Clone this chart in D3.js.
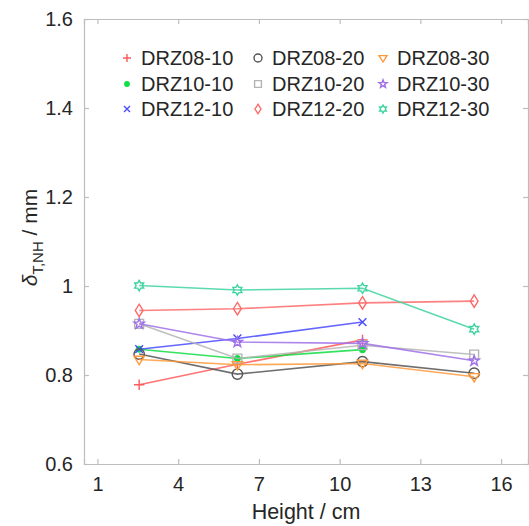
<!DOCTYPE html>
<html>
<head>
<meta charset="utf-8">
<script src="https://cdn.jsdelivr.net/npm/d3@7"></script>
<style>
  html, body { margin: 0; padding: 0; background: #fff; }
  svg { display: block; font-family: "Liberation Sans", Arial, sans-serif; }
</style>
</head>
<body>
<svg id="chart" width="529" height="526"></svg>
<script>
// Sampling heights (cm)
const heights = [2.55, 6.2, 10.85, 15];

// Series names
const seriesNames = ["DRZ08-10", "DRZ08-20", "DRZ08-30",
                     "DRZ10-10", "DRZ10-20", "DRZ10-30",
                     "DRZ12-10", "DRZ12-20", "DRZ12-30"];

// δ_T,NH values (mm) per series
const drz08_10 = [0.778, 0.824, 0.879];
const drz08_20 = [0.847, 0.802, 0.830, 0.804];
const drz08_30 = [0.835, 0.823, 0.826, 0.796];
const drz10_10 = [0.858, 0.837, 0.857];
const drz10_20 = [0.915, 0.837, 0.867, 0.846];
const drz10_30 = [0.915, 0.874, 0.871, 0.832];
const drz12_10 = [0.858, 0.882, 0.919];
const drz12_20 = [0.945, 0.949, 0.962, 0.966];
const drz12_30 = [1.001, 0.991, 0.995, 0.903];

// Tick values
const xTicks = [1, 4, 7, 10, 13, 16];
const yTicks = [0.6, 0.8, 1.0, 1.2, 1.4, 1.6];

const seriesValues = [drz08_10, drz08_20, drz08_30,
                      drz10_10, drz10_20, drz10_30,
                      drz12_10, drz12_20, drz12_30];
const seriesColors = ["#ff5a5a", "#555555", "#ff9a3c",
                      "#11dd44", "#b4b4b4", "#a070e8",
                      "#4a4aff", "#ff6a6a", "#3fd3a0"];
const seriesMarkers = ["plus", "circle", "triangleDown",
                       "dot", "square", "pentagram",
                       "cross", "diamond", "hexagram"];

const svg = d3.select("#chart");
const margin = { left: 84, right: 1, top: 19, bottom: 62 };
const W = 529, H = 526;
const x = d3.scaleLinear().domain([0.5, 17]).range([margin.left, W - margin.right]);
const y = d3.scaleLinear().domain([0.6, 1.6]).range([H - margin.bottom, margin.top]);

const axisColor = "#bdbdbd";
const textColor = "#262626";

// Axes (ticks point inward, mirrored on top/right)
function styleAxis(g) {
  g.select(".domain").attr("stroke", axisColor).attr("stroke-width", 1.2);
  g.selectAll(".tick line").attr("stroke", axisColor).attr("stroke-width", 1.2);
  g.selectAll(".tick text").attr("fill", textColor).style("font-size", "20px");
}
svg.append("g")
  .attr("transform", `translate(0,${y(0.6)})`)
  .call(d3.axisBottom(x).tickValues(xTicks).tickSize(-5).tickPadding(13).tickFormat(d3.format("d")))
  .call(styleAxis);
svg.append("g")
  .attr("transform", `translate(0,${y(1.6)})`)
  .call(d3.axisTop(x).tickValues(xTicks).tickSize(-5).tickFormat(""))
  .call(styleAxis);
svg.append("g")
  .attr("transform", `translate(${x(0.5)},0)`)
  .call(d3.axisLeft(y).tickValues(yTicks).tickSize(-5).tickPadding(11).tickFormat(d => d3.format("~g")(d)))
  .call(styleAxis);
svg.append("g")
  .attr("transform", `translate(${x(17)},0)`)
  .call(d3.axisRight(y).tickValues(yTicks).tickSize(-5).tickFormat(""))
  .call(styleAxis);

// Axis titles
svg.append("text")
  .attr("x", (x(0.5) + x(17)) / 2).attr("y", 519)
  .attr("text-anchor", "middle").attr("fill", textColor)
  .style("font-size", "21.5px").text("Height / cm");

const yTitle = svg.append("text")
  .attr("transform", `translate(37,${(y(0.6) + y(1.6)) / 2 - 4}) rotate(-90)`)
  .attr("text-anchor", "middle").attr("fill", textColor)
  .style("font-size", "21px");
yTitle.append("tspan").text("δ").style("font-style", "italic");
yTitle.append("tspan").attr("dy", 6).style("font-size", "15px").text("T,NH");
yTitle.append("tspan").attr("dy", -6).text(" / mm");

// Marker path generator
function markerPath(type, r) {
  switch (type) {
    case "plus": return `M${-r},0H${r}M0,${-r}V${r}`;
    case "cross": { const a = r * 0.75; return `M${-a},${-a}L${a},${a}M${-a},${a}L${a},${-a}`; }
    case "circle": return d3.arc()({ innerRadius: 0, outerRadius: r, startAngle: 0, endAngle: 2 * Math.PI });
    case "dot": { const q = r * 0.55; return d3.arc()({ innerRadius: 0, outerRadius: q, startAngle: 0, endAngle: 2 * Math.PI }); }
    case "square": { const a = r * 0.85; return `M${-a},${-a}H${a}V${a}H${-a}Z`; }
    case "diamond": return `M0,${-r * 1.2}L${r * 0.75},0L0,${r * 1.2}L${-r * 0.75},0Z`;
    case "triangleDown": return `M${-r},${-r * 0.6}L${r},${-r * 0.6}L0,${r}Z`;
    case "pentagram": {
      const pts = [];
      for (let i = 0; i < 10; i++) {
        const rr = i % 2 === 0 ? r * 1.05 : r * 0.42;
        const ang = -Math.PI / 2 + i * Math.PI / 5;
        pts.push([rr * Math.cos(ang), rr * Math.sin(ang)]);
      }
      return "M" + pts.map(p => p.join(",")).join("L") + "Z";
    }
    case "hexagram": {
      const pts = [];
      for (let i = 0; i < 12; i++) {
        const rr = i % 2 === 0 ? r : r * 0.58;
        const ang = -Math.PI / 2 + i * Math.PI / 6;
        pts.push([rr * Math.cos(ang), rr * Math.sin(ang)]);
      }
      return "M" + pts.map(p => p.join(",")).join("L") + "Z";
    }
  }
}
function drawMarker(g, type, color, r) {
  const filled = type === "dot";
  g.append("path").attr("d", markerPath(type, r))
    .attr("fill", filled ? color : "none")
    .attr("stroke", color).attr("stroke-width", 1.4);
}

// Series lines and markers
const plot = svg.append("g");
const line = d3.line().x((d, i) => x(heights[i])).y(d => y(d));
const drawOrder = [0, 3, 6, 1, 4, 7, 2, 5, 8];
drawOrder.forEach(k => {
  const vals = seriesValues[k];
  plot.append("path").datum(vals).attr("d", line)
    .attr("fill", "none").attr("stroke", seriesColors[k])
    .attr("stroke-width", 1.6).attr("stroke-opacity", 0.85);
  vals.forEach((v, i) => {
    const g = plot.append("g").attr("transform", `translate(${x(heights[i])},${y(v)})`);
    drawMarker(g, seriesMarkers[k], seriesColors[k], 5.2);
  });
});

// Legend (3 columns × 3 rows)
const legend = svg.append("g");
const colX = [127, 258, 383];
const rowY = [58, 84, 109];
seriesNames.forEach((name, k) => {
  const col = k % 3, row = Math.floor(k / 3);
  const g = legend.append("g").attr("transform", `translate(${colX[col]},${rowY[row]})`);
  drawMarker(g.append("g"), seriesMarkers[k], seriesColors[k], 4);
  g.append("text").attr("x", 14).attr("y", 7)
    .attr("fill", textColor).style("font-size", "20px").text(name);
});
</script>
</body>
</html>
